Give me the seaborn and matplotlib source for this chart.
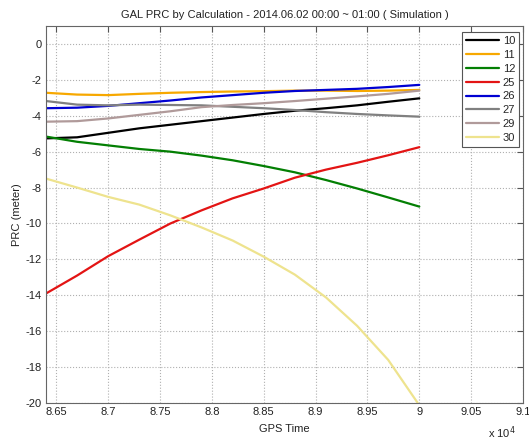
import numpy as np
import pandas as pd
import matplotlib
matplotlib.use("Agg")
import matplotlib.pyplot as plt
from matplotlib.lines import Line2D
from matplotlib.ticker import FuncFormatter
import seaborn as sns

# ---- data ----
gps_time = [86400, 86700, 87000, 87300, 87600, 87900, 88200, 88500,
            88800, 89100, 89400, 89700, 90000]
time_30 = [86400, 86700, 87000, 87300, 87600, 87900, 88200, 88500,
           88800, 89100, 89400, 89700, 89985]

prn_labels = ["10", "11", "12", "25", "26", "27", "29", "30"]

prc_10 = [-5.26, -5.20, -4.95, -4.70, -4.50, -4.30, -4.10, -3.90, -3.72, -3.58, -3.42, -3.22, -3.03]
prc_11 = [-2.72, -2.82, -2.85, -2.78, -2.72, -2.68, -2.65, -2.63, -2.60, -2.60, -2.62, -2.60, -2.56]
prc_12 = [-5.16, -5.45, -5.65, -5.85, -6.00, -6.22, -6.48, -6.80, -7.15, -7.58, -8.05, -8.55, -9.06]
prc_25 = [-13.90, -12.90, -11.82, -10.90, -10.00, -9.27, -8.60, -8.05, -7.45, -7.00, -6.62, -6.20, -5.75]
prc_26 = [-3.58, -3.55, -3.45, -3.30, -3.15, -2.98, -2.85, -2.72, -2.62, -2.56, -2.50, -2.40, -2.28]
prc_27 = [-3.18, -3.38, -3.42, -3.38, -3.40, -3.42, -3.50, -3.58, -3.68, -3.80, -3.90, -3.98, -4.05]
prc_29 = [-4.33, -4.30, -4.15, -3.95, -3.75, -3.52, -3.40, -3.30, -3.18, -3.05, -2.92, -2.78, -2.60]
prc_30 = [-7.50, -8.00, -8.52, -8.95, -9.55, -10.22, -10.95, -11.85, -12.85, -14.12, -15.70, -17.60, -20.00]

x_ticks = [86500, 87000, 87500, 88000, 88500, 89000, 89500, 90000, 90500, 91000]
y_ticks = [-20, -18, -16, -14, -12, -10, -8, -6, -4, -2, 0]

colors = ["#000000", "#F7A800", "#037F03", "#E31414", "#0000D2",
          "#808080", "#B09A9A", "#EEE38E"]

series = {
    "10": (gps_time, prc_10), "11": (gps_time, prc_11), "12": (gps_time, prc_12),
    "25": (gps_time, prc_25), "26": (gps_time, prc_26), "27": (gps_time, prc_27),
    "29": (gps_time, prc_29), "30": (time_30, prc_30),
}
frames = [pd.DataFrame({"time": t, "prc": v, "prn": k}) for k, (t, v) in series.items()]
df = pd.concat(frames, ignore_index=True)

# ---- style ----
sns.set_style("white")
plt.rcParams["font.family"] = ["Liberation Sans", "DejaVu Sans"]
plt.rcParams["axes.unicode_minus"] = False

W, H = 529, 440
fig = plt.figure(figsize=(W / 100, H / 100), dpi=100)
fig.patch.set_facecolor("white")
left, right, top, bottom = 46, 523, 26, 403
ax = fig.add_axes([left / W, 1 - bottom / H, (right - left) / W, (bottom - top) / H])

palette = dict(zip(prn_labels, colors))
sns.lineplot(data=df, x="time", y="prc", hue="prn", hue_order=prn_labels,
             palette=palette, linewidth=1.6, estimator=None, legend=False, ax=ax)

ax.set_xlim(86400, 91000)
ax.set_ylim(-20, 1)
ax.set_xticks(x_ticks)
ax.set_yticks(y_ticks)
ax.xaxis.set_major_formatter(FuncFormatter(lambda v, p: f"{v / 1e4:g}"))
ax.grid(True, linestyle=":", color="#b0b0b0", linewidth=0.8)
ax.tick_params(direction="in", top=True, right=True, length=4, width=0.8,
               color="#555555", labelcolor="#222222", labelsize=8, pad=3)
for s in ax.spines.values():
    s.set_color("#666666")
    s.set_linewidth(0.8)

ax.set_xlabel("GPS Time", fontsize=8, color="#222222", labelpad=5)
ax.set_ylabel("PRC (meter)", fontsize=8, color="#222222")
ax.yaxis.set_label_coords((22 - left) / (right - left), 0.5)
ax.set_title("GAL PRC by Calculation - 2014.06.02 00:00 ~ 01:00 ( Simulation )",
             fontsize=8, color="#222222", pad=6)
fig.text(502 / W, 1 - 433 / H, "x 10$^4$", fontsize=8, color="#222222",
         ha="center", va="center")

handles = [Line2D([0], [0], color=c, lw=1.6) for c in colors]
leg = ax.legend(handles, prn_labels, loc="upper right",
                bbox_to_anchor=((519 - left) / (right - left), (bottom - 32) / (bottom - top)),
                borderaxespad=0, fontsize=8, handlelength=3.0, handletextpad=0.3,
                labelspacing=0.35, borderpad=0.35, fancybox=False, framealpha=1)
leg.get_frame().set_edgecolor("#555555")
leg.get_frame().set_linewidth(0.8)

fig.savefig("out.png", dpi=100, facecolor="white")
